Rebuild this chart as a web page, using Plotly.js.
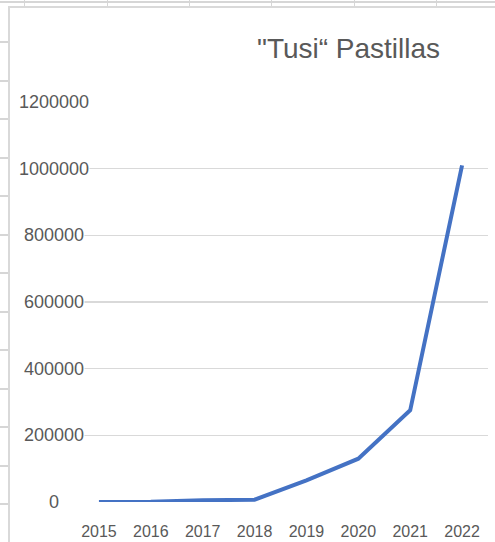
<!DOCTYPE html>
<html>
<head>
<meta charset="utf-8">
<script src="https://cdn.plot.ly/plotly-3.0.1.min.js"></script>
<style>
  html, body { margin: 0; padding: 0; background: #ffffff; }
  #page { position: relative; width: 495px; height: 542px; overflow: hidden; background: #ffffff; }
  .sheetline { position: absolute; background: #d6d6d6; }
  #frame { position: absolute; left: 8px; top: 6px; width: 487px; height: 536px;
           border-left: 2px solid #d9d9d9; border-top: 2px solid #d9d9d9; background: #ffffff; box-sizing: border-box; }
  #chart { position: absolute; left: 10px; top: 8px; width: 485px; height: 534px; }
</style>
</head>
<body>
<div id="page">
  <div id="frame"></div>
  <div id="chart"></div>
</div>
<script>
// ---- data ----
var years = ['2015', '2016', '2017', '2018', '2019', '2020', '2021', '2022'];
var pastillas = [0, 500, 5000, 7000, 65000, 130000, 275000, 1010000];
var yTicks = [0, 200000, 400000, 600000, 800000, 1000000, 1200000];
var yTickLabels = ['0', '200000', '400000', '600000', '800000', '1000000', '1200000'];
var chartTitle = '"Tusi\u201C Pastillas';

// ---- decorative spreadsheet grid behind the chart ----
(function () {
  var page = document.getElementById('page');
  function addLine(l, t, w, h) {
    var d = document.createElement('div');
    d.className = 'sheetline';
    d.style.left = l + 'px'; d.style.top = t + 'px';
    d.style.width = w + 'px'; d.style.height = h + 'px';
    page.insertBefore(d, page.firstChild);
  }
  addLine(0, 1, 495, 2);
  var cols = [24, 107, 189, 271, 354, 436];
  cols.forEach(function (x) { addLine(x, 0, 1, 7); });
  for (var y = 41; y < 542; y += 38.5) { addLine(0, Math.round(y), 8, 2); }
})();

// ---- chart ----
var trace = {
  type: 'scatter',
  mode: 'lines',
  x: years,
  y: pastillas,
  line: { color: '#4472C4', width: 4, shape: 'linear' },
  cliponaxis: false,
  hoverinfo: 'x+y'
};

var annotations = yTicks.map(function (v, i) {
  return {
    xref: 'paper', yref: 'y',
    x: -0.045, y: v,
    xanchor: 'center', yanchor: 'middle',
    text: yTickLabels[i],
    showarrow: false,
    bgcolor: '#ffffff',
    borderpad: 0,
    font: { family: 'Liberation Sans, Arial, sans-serif', size: 18, color: '#595959' }
  };
});

var layout = {
  width: 485,
  height: 534,
  margin: { l: 63, r: 7, t: 94, b: 40, pad: 0 },
  paper_bgcolor: 'rgba(0,0,0,0)',
  plot_bgcolor: 'rgba(0,0,0,0)',
  showlegend: false,
  title: {
    text: chartTitle,
    xref: 'container', yref: 'container',
    x: 0.698, y: 0.925,
    xanchor: 'center', yanchor: 'middle',
    font: { family: 'Liberation Sans, Arial, sans-serif', size: 28, color: '#595959' }
  },
  xaxis: {
    type: 'category',
    range: [-0.5, 7.5],
    showgrid: false,
    zeroline: false,
    showline: false,
    ticks: 'outside',
    ticklen: 15,
    tickcolor: 'rgba(0,0,0,0)',
    tickfont: { family: 'Liberation Sans, Arial, sans-serif', size: 16, color: '#595959' },
    fixedrange: true
  },
  yaxis: {
    range: [0, 1200000],
    tickvals: yTicks,
    showticklabels: false,
    showgrid: true,
    gridcolor: '#d9d9d9',
    gridwidth: 1.3,
    zeroline: false,
    showline: false,
    fixedrange: true
  },
  annotations: annotations
};

Plotly.newPlot('chart', [trace], layout, { displayModeBar: false, staticPlot: true });
</script>
</body>
</html>
